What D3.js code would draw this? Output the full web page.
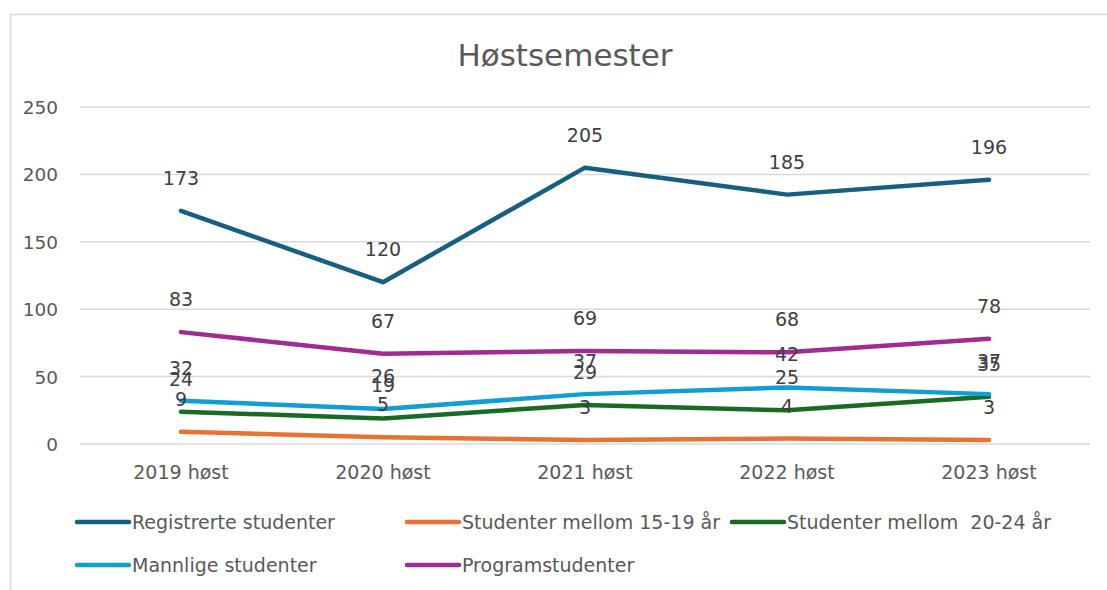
<!DOCTYPE html>
<html>
<head>
<meta charset="utf-8">
<script src="https://cdn.jsdelivr.net/npm/d3@7"></script>
<style>
  body { margin: 0; background: #fff; }
  svg text { font-family: "DejaVu Sans", "Liberation Sans", sans-serif; fill: #595959; }
</style>
</head>
<body>
<svg id="chart"></svg>
<script>
const categories = ['2019 høst', '2020 høst', '2021 høst', '2022 høst', '2023 høst'];
const registrerte = [173, 120, 205, 185, 196];
const alder1519 = [9, 5, 3, 4, 3];
const alder2024 = [24, 19, 29, 25, 35];
const mannlige = [32, 26, 37, 42, 37];
const program = [83, 67, 69, 68, 78];
const yTicks = [0, 50, 100, 150, 200, 250];

const series = [
    {name: 'Registrerte studenter', values: registrerte, color: '#156082'},
    {name: 'Studenter mellom 15-19 år', values: alder1519, color: '#E97132'},
    {name: 'Studenter mellom  20-24 år', values: alder2024, color: '#196B24'},
    {name: 'Mannlige studenter', values: mannlige, color: '#0F9ED5'},
    {name: 'Programstudenter', values: program, color: '#A02B93'}
];

const width = 1107, height = 590;
const svg = d3.select('#chart').attr('width', width).attr('height', height);

// chart frame
svg.append('rect')
    .attr('x', 10.5).attr('y', 14.5)
    .attr('width', 1110).attr('height', 600)
    .attr('fill', 'none').attr('stroke', '#d9d9d9').attr('stroke-width', 1.5);

const x = d3.scaleBand().domain(categories).range([80, 1090]);
const y = d3.scaleLinear().domain([0, 250]).range([444, 107]);

// gridlines
svg.append('g').selectAll('line')
    .data(yTicks).enter().append('line')
    .attr('x1', 80).attr('x2', 1090)
    .attr('y1', d => y(d)).attr('y2', d => y(d))
    .attr('stroke', '#d9d9d9').attr('stroke-width', 1.5);

// y labels
svg.append('g').selectAll('text')
    .data(yTicks).enter().append('text')
    .attr('x', 58).attr('y', d => y(d) + 7)
    .attr('text-anchor', 'end')
    .style('font-size', '18.5px')
    .text(d => d);

// x labels
svg.append('g').selectAll('text')
    .data(categories).enter().append('text')
    .attr('x', d => x(d) + x.bandwidth() / 2)
    .attr('y', 479)
    .attr('text-anchor', 'middle')
    .style('font-size', '19px')
    .text(d => d);

// title
svg.append('text')
    .attr('x', 565).attr('y', 66)
    .attr('text-anchor', 'middle')
    .style('font-size', '31px')
    .text('Høstsemester');

const line = d3.line()
    .x((d, i) => x(categories[i]) + x.bandwidth() / 2)
    .y(d => y(d));

series.forEach(s => {
    svg.append('path')
        .datum(s.values)
        .attr('d', line)
        .attr('fill', 'none')
        .attr('stroke', s.color)
        .attr('stroke-width', 4.5)
        .attr('stroke-linecap', 'round')
        .attr('stroke-linejoin', 'round');
});

// data labels
series.forEach(s => {
    svg.append('g').selectAll('text')
        .data(s.values).enter().append('text')
        .attr('x', (d, i) => x(categories[i]) + x.bandwidth() / 2)
        .attr('y', d => y(d) - 26)
        .attr('text-anchor', 'middle')
        .style('font-size', '19px')
        .style('fill', '#404040')
        .text(d => d);
});

// legend
const legendPos = [[75, 522], [405, 522], [730, 522], [75, 565], [405, 565]];
series.forEach((s, i) => {
    const [lx, ly] = legendPos[i];
    const g = svg.append('g').attr('transform', `translate(${lx},${ly})`);
    g.append('line')
        .attr('x1', 2).attr('x2', 54)
        .attr('stroke', s.color).attr('stroke-width', 4.5)
        .attr('stroke-linecap', 'round');
    g.append('text')
        .attr('x', 57).attr('y', 7)
        .style('font-size', '19px')
        .style('white-space', 'pre')
        .text(s.name);
});
</script>
</body>
</html>
